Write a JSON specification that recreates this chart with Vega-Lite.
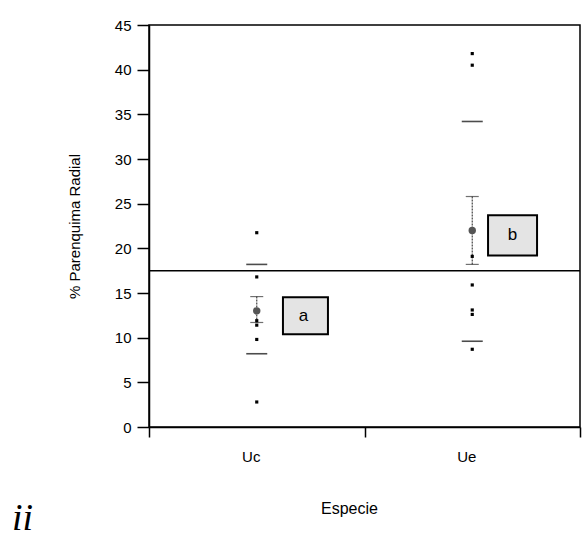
{
  "$schema": "https://vega.github.io/schema/vega-lite/v6.json",
  "autosize": "none",
  "width": 431,
  "height": 402,
  "padding": {"left": 149, "top": 25, "right": 5, "bottom": 111},
  "background": "white",
  "config": {
    "font": "Liberation Sans",
    "view": {"stroke": "black", "strokeWidth": 1.5},
    "axis": {"domainColor": "black", "tickColor": "black", "labelColor": "black", "titleColor": "black", "grid": false, "domainWidth": 1.5, "tickWidth": 1.5, "labelFont": "Liberation Sans", "titleFont": "Liberation Sans", "titleFontWeight": "normal"}
  },
  "title": {"text": "ii", "orient": "bottom", "anchor": "start", "frame": "group", "dx": -137, "dy": -16, "offset": 0, "font": "Liberation Serif", "fontStyle": "italic", "fontWeight": "normal", "fontSize": 38, "color": "black"},
  "datasets": {
    "ref": [{"ref": 17.5}],
    "pct": [
      {"sp": "Uc", "v": 18.2}, {"sp": "Uc", "v": 8.2},
      {"sp": "Ue", "v": 34.2}, {"sp": "Ue", "v": 9.6}
    ],
    "ci": [
      {"sp": "Uc", "lo": 11.7, "mean": 13.0, "hi": 14.6},
      {"sp": "Ue", "lo": 18.2, "mean": 22.0, "hi": 25.8}
    ],
    "pts": [
      {"sp": "Uc", "v": 21.75}, {"sp": "Uc", "v": 16.8}, {"sp": "Uc", "v": 11.9}, {"sp": "Uc", "v": 11.4}, {"sp": "Uc", "v": 9.8}, {"sp": "Uc", "v": 2.8},
      {"sp": "Ue", "v": 41.8}, {"sp": "Ue", "v": 40.5}, {"sp": "Ue", "v": 19.1}, {"sp": "Ue", "v": 15.9}, {"sp": "Ue", "v": 13.1}, {"sp": "Ue", "v": 12.6}, {"sp": "Ue", "v": 8.7}
    ],
    "boxa": [{"sp": "Uc", "v": 12.45, "label": "a"}],
    "boxb": [{"sp": "Ue", "v": 21.45, "label": "b"}]
  },
  "encoding": {
    "x": {
      "field": "sp", "type": "nominal",
      "scale": {"domain": ["Uc", "Ue"], "paddingInner": 0, "paddingOuter": 0},
      "axis": {"title": "Especie", "labelAngle": 0, "labelFontSize": 15, "labelPadding": 12, "labelOffset": -6, "tickBand": "extent", "tickSize": 10, "titleFontSize": 16, "titleX": 200, "titleY": 86, "titleBaseline": "alphabetic", "titleAlign": "center"}
    }
  },
  "layer": [
    {
      "data": {"name": "ref"},
      "mark": {"type": "rule", "color": "black", "strokeWidth": 1.5},
      "encoding": {
        "x": null,
        "y": {"field": "ref", "type": "quantitative",
          "scale": {"domain": [0, 45], "nice": false, "zero": true},
          "axis": {"title": "% Parenquima Radial", "values": [0, 5, 10, 15, 20, 25, 30, 35, 40, 45], "tickSize": 12, "labelFontSize": 15, "labelPadding": 6, "titleFontSize": 15, "titleX": -75, "titleY": 201, "titleAngle": 270, "titleAlign": "center", "titleBaseline": "middle"}}
      }
    },
    {
      "data": {"name": "pct"},
      "mark": {"type": "tick", "orient": "horizontal", "size": 21, "thickness": 1.6, "color": "black"},
      "encoding": {"y": {"field": "v", "type": "quantitative"}}
    },
    {
      "data": {"name": "ci"},
      "mark": {"type": "rule", "color": "#444", "strokeWidth": 1.2, "strokeDash": [2, 1]},
      "encoding": {"y": {"field": "lo", "type": "quantitative"}, "y2": {"field": "hi"}}
    },
    {
      "data": {"name": "ci"},
      "mark": {"type": "tick", "orient": "horizontal", "size": 13, "thickness": 1.2, "color": "#333"},
      "encoding": {"y": {"field": "lo", "type": "quantitative"}}
    },
    {
      "data": {"name": "ci"},
      "mark": {"type": "tick", "orient": "horizontal", "size": 13, "thickness": 1.2, "color": "#333"},
      "encoding": {"y": {"field": "hi", "type": "quantitative"}}
    },
    {
      "data": {"name": "ci"},
      "mark": {"type": "point", "shape": "circle", "filled": true, "size": 55, "color": "#555", "opacity": 1},
      "encoding": {"y": {"field": "mean", "type": "quantitative"}}
    },
    {
      "data": {"name": "pts"},
      "mark": {"type": "point", "shape": "square", "filled": true, "size": 10, "color": "black", "opacity": 1},
      "encoding": {"y": {"field": "v", "type": "quantitative"}}
    },
    {
      "data": {"name": "boxa"},
      "mark": {"type": "point", "shape": "M-1,-0.82L1,-0.82L1,0.82L-1,0.82Z", "size": 2025, "filled": false, "fill": "#e4e4e4", "fillOpacity": 1, "stroke": "black", "strokeWidth": 2, "opacity": 1},
      "encoding": {"x": {"field": "sp", "type": "nominal", "bandPosition": 0.726}, "y": {"field": "v", "type": "quantitative"}}
    },
    {
      "data": {"name": "boxa"},
      "mark": {"type": "text", "fontSize": 17, "color": "black", "dx": -2},
      "encoding": {"x": {"field": "sp", "type": "nominal", "bandPosition": 0.726}, "y": {"field": "v", "type": "quantitative"}, "text": {"field": "label"}}
    },
    {
      "data": {"name": "boxb"},
      "mark": {"type": "point", "shape": "M-1,-0.82L1,-0.82L1,0.82L-1,0.82Z", "size": 2401, "filled": false, "fill": "#e4e4e4", "fillOpacity": 1, "stroke": "black", "strokeWidth": 2, "opacity": 1},
      "encoding": {"x": {"field": "sp", "type": "nominal", "bandPosition": 0.687}, "y": {"field": "v", "type": "quantitative"}}
    },
    {
      "data": {"name": "boxb"},
      "mark": {"type": "text", "fontSize": 17, "color": "black"},
      "encoding": {"x": {"field": "sp", "type": "nominal", "bandPosition": 0.687}, "y": {"field": "v", "type": "quantitative"}, "text": {"field": "label"}}
    }
  ]
}
